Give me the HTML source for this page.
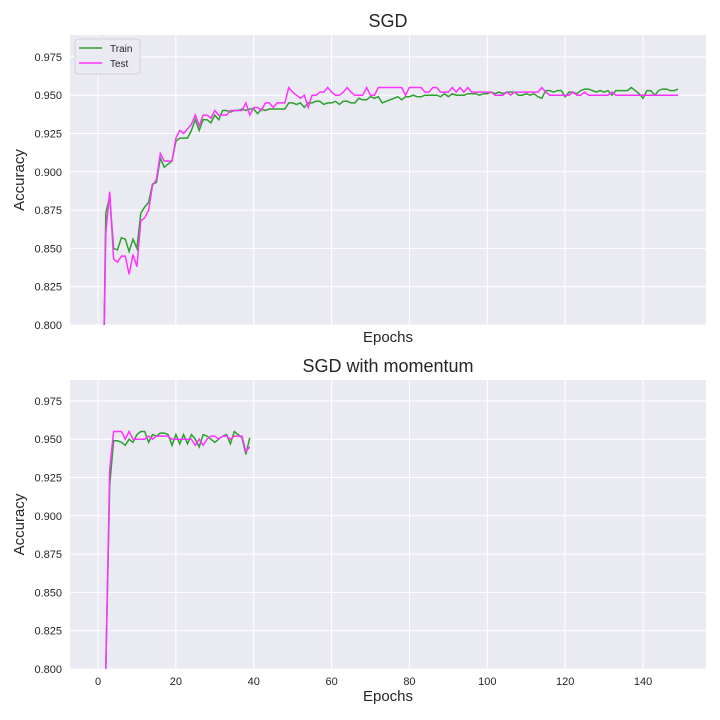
<!DOCTYPE html>
<html><head><meta charset="utf-8"><style>
html,body{margin:0;padding:0;background:#fff;font-family:"Liberation Sans",sans-serif;width:720px;height:720px;overflow:hidden}
svg{display:block}
</style></head><body>
<svg id="c" width="720" height="720" xmlns="http://www.w3.org/2000/svg" font-family="Liberation Sans, sans-serif"></svg>
<script>
const topTrain=[0.70,0.873,0.884,0.850,0.849,0.857,0.856,0.848,0.856,0.850,0.873,0.877,0.880,0.892,0.893,0.909,0.903,0.905,0.907,0.920,0.922,0.922,0.922,0.927,0.934,0.927,0.934,0.934,0.932,0.937,0.934,0.940,0.940,0.939,0.940,0.940,0.941,0.940,0.941,0.941,0.938,0.941,0.940,0.941,0.941,0.941,0.941,0.941,0.945,
0.945,0.944,0.945,0.942,0.945,0.945,0.946,0.946,0.944,0.945,0.945,0.946,0.944,0.946,0.946,0.945,0.945,0.948,0.947,0.947,0.949,0.948,0.949,0.945,0.946,0.947,0.948,0.949,0.947,0.949,0.949,0.950,0.949,0.949,0.950,0.950,0.950,0.950,0.949,0.951,0.949,0.951,0.950,0.950,0.950,0.951,0.951,0.951,0.950,0.951,0.951,
0.952,0.951,0.952,0.951,0.952,0.952,0.952,0.950,0.950,0.951,0.950,0.951,0.949,0.948,0.953,0.953,0.952,0.953,0.953,0.949,0.952,0.952,0.951,0.953,0.954,0.954,0.953,0.952,0.953,0.952,0.953,0.950,0.953,0.953,0.953,0.953,0.955,0.953,0.951,0.948,0.953,0.953,0.950,0.953,0.954,0.954,0.953,0.953,0.954];
const topTest=[0.70,0.860,0.887,0.843,0.841,0.845,0.845,0.833,0.846,0.838,0.868,0.870,0.875,0.891,0.895,0.912,0.907,0.907,0.907,0.922,0.927,0.925,0.928,0.931,0.937,0.930,0.937,0.937,0.935,0.940,0.937,0.937,0.937,0.940,0.940,0.940,0.940,0.945,0.937,0.942,0.942,0.940,0.945,0.945,0.942,0.945,0.945,0.945,0.955,
0.952,0.950,0.948,0.950,0.942,0.950,0.950,0.952,0.952,0.955,0.952,0.950,0.950,0.952,0.955,0.952,0.950,0.950,0.950,0.955,0.950,0.950,0.955,0.955,0.955,0.955,0.955,0.955,0.955,0.950,0.955,0.955,0.955,0.955,0.952,0.952,0.955,0.955,0.952,0.952,0.952,0.955,0.952,0.955,0.952,0.955,0.952,0.952,0.952,0.952,0.952,
0.952,0.950,0.950,0.950,0.952,0.950,0.952,0.952,0.952,0.952,0.952,0.952,0.952,0.955,0.952,0.950,0.950,0.950,0.950,0.950,0.950,0.952,0.950,0.950,0.952,0.950,0.950,0.950,0.950,0.950,0.950,0.952,0.950,0.950,0.950,0.950,0.950,0.950,0.950,0.950,0.950,0.950,0.950,0.950,0.950,0.950,0.950,0.950,0.950];
const botTrain=[0.785,0.80,0.920,0.949,0.949,0.948,0.946,0.950,0.948,0.953,0.955,0.955,0.948,0.953,0.952,0.954,0.954,0.953,0.946,0.953,0.947,0.953,0.947,0.953,0.950,0.945,0.953,0.952,0.950,0.948,0.950,0.952,0.953,0.947,0.955,0.953,0.951,0.940,0.951];
const botTest=[0.785,0.80,0.930,0.955,0.955,0.955,0.950,0.955,0.950,0.950,0.950,0.950,0.952,0.950,0.952,0.952,0.952,0.952,0.950,0.950,0.950,0.950,0.950,0.950,0.946,0.950,0.946,0.950,0.952,0.952,0.950,0.952,0.952,0.950,0.952,0.952,0.952,0.942,0.945];
const yTicks=[0.800,0.825,0.850,0.875,0.900,0.925,0.950,0.975];
const xTicks=[0,20,40,60,80,100,120,140];

const svg=document.getElementById('c');
const NS='http://www.w3.org/2000/svg';
function mk(t,a,p){const e=document.createElementNS(NS,t);for(const k in a)e.setAttribute(k,a[k]);(p||svg).appendChild(e);return e;}
const X0=70,X1=706;
const xs=e=>98+e*3.893;
function panel(top,bot,title,train,test,showX,legend,pname){
  const g=mk('g',{});
  
  
  const ys=v=>bot-(v-0.8)/0.025*38.3;
  mk('rect',{x:X0,y:top,width:X1-X0,height:bot-top,fill:'#eaeaf2'},g);
  for(const t of xTicks){const l=mk('line',{x1:xs(t),x2:xs(t),y1:top,y2:bot,stroke:'#fff','stroke-width':1},g);
    
    if(showX){const tx=mk('text',{x:xs(t),y:bot+16,'font-size':11,'text-anchor':'middle',fill:'#262626'},g);tx.textContent=t;
      }}
  for(const t of yTicks){const l=mk('line',{x1:X0,x2:X1,y1:ys(t),y2:ys(t),stroke:'#fff','stroke-width':1},g);
    
    const tx=mk('text',{x:X0-8,y:ys(t)+4,'font-size':11,'text-anchor':'end',fill:'#262626'},g);tx.textContent=t.toFixed(3);
    }
  const cp='clip'+top;
  const d=mk('clipPath',{id:cp},g);mk('rect',{x:X0,y:top,width:X1-X0,height:bot-top},d);
  const series=[[train,'#2ca02c','train-line'],[test,'#ff33ff','test-line']];
  for(const [arr,col,nm] of series){
    const pts=arr.map((v,i)=>xs(i+1).toFixed(1)+','+ys(v).toFixed(1)).join(' ');
    const p=mk('polyline',{points:pts,fill:'none',stroke:col,'stroke-width':1.5,'clip-path':'url(#'+cp+')'},g);
    
  }
  const tt=mk('text',{x:(X0+X1)/2,y:top-8,'font-size':18,'text-anchor':'middle',fill:'#262626'},g);tt.textContent=title;
  
  const yl=mk('text',{x:0,y:0,'font-size':15,'text-anchor':'middle',fill:'#262626',transform:'translate(24,'+((top+bot)/2)+') rotate(-90)'},g);yl.textContent='Accuracy';
  
  const xl=mk('text',{x:(X0+X1)/2,y:bot+17+(showX?15:0),'font-size':15,'text-anchor':'middle',fill:'#262626'},g);xl.textContent='Epochs';
  
  if(legend){
    const lg=mk('g',{},g);
    
    mk('rect',{x:75,y:39,width:65,height:35,rx:3,fill:'#eaeaf2',stroke:'#ccc','stroke-width':0.8},lg);
    [['Train','#2ca02c',52],['Test','#ff33ff',67]].forEach(([n,c,y])=>{
      const e=mk('g',{},lg);
      mk('line',{x1:79,x2:102,y1:y-4,y2:y-4,stroke:c,'stroke-width':1.5},e);
      const t=mk('text',{x:110,y:y,'font-size':10,fill:'#262626'},e);t.textContent=n;});
  }
}
panel(35,325,'SGD',topTrain,topTest,false,true,'sgd-panel');
panel(380,669,'SGD with momentum',botTrain,botTest,true,false,'sgd-momentum-panel');
</script>
</body></html>
